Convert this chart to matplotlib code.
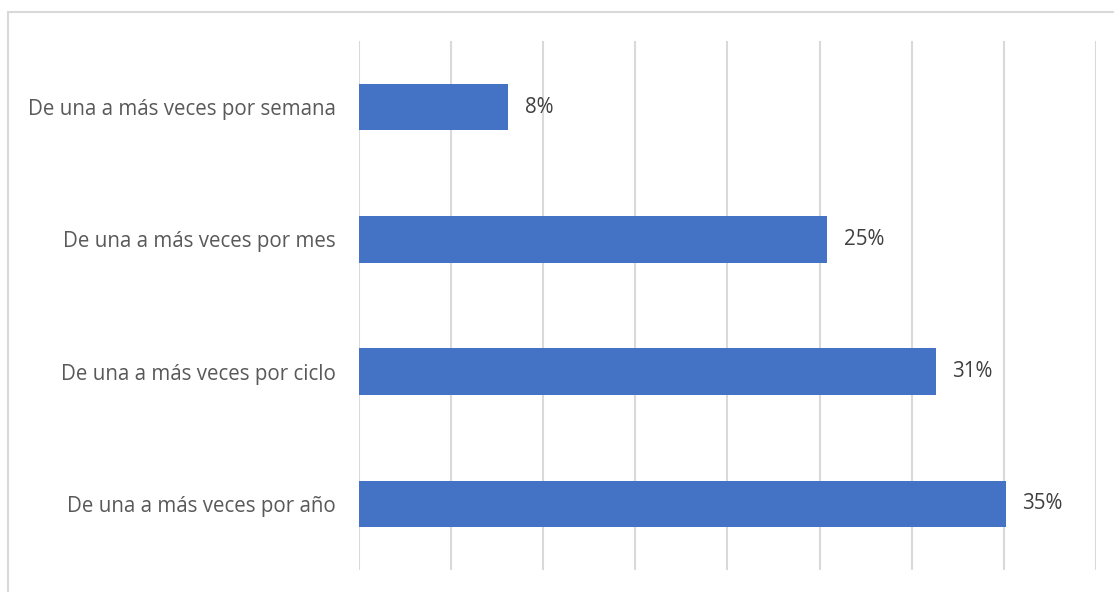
import matplotlib.pyplot as plt
from matplotlib.patches import Rectangle

categories = [
    'De una a más veces por semana',
    'De una a más veces por mes',
    'De una a más veces por ciclo',
    'De una a más veces por año',
]
percentages = [8.1, 25.4, 31.3, 35.1]

plt.rcParams['font.family'] = ['Open Sans', 'DejaVu Sans']

fig = plt.figure(figsize=(11.14, 5.92), dpi=100)
ax = fig.add_axes([0.3223, 0.0372, 0.9838 - 0.3223, 0.9307 - 0.0372])

# chart frame, clipped on the right and bottom
fig.patches.append(Rectangle((7.5 / 1114, -0.1), 1.2, 1 - 12 / 592 + 0.1,
                             transform=fig.transFigure, fill=False,
                             edgecolor='#d9d9d9', linewidth=1.5))

ypos = list(range(len(categories)))
ax.barh(ypos, percentages, height=0.35, color='#4472c4', zorder=2)
for y, v in zip(ypos, percentages):
    ax.text(v + 0.9, y, f'{v:.0f}%', va='center', ha='left',
            fontsize=14.8, color='#404040')

ax.set_xlim(0, 40)
ax.set_ylim(len(categories) - 0.5, -0.5)
ax.set_xticks(range(0, 41, 5))
ax.xaxis.grid(True, color='#d9d9d9', linewidth=1.5, zorder=0)
ax.tick_params(axis='x', length=0, labelbottom=False)
ax.set_yticks(ypos)
ax.set_yticklabels(categories, fontsize=14.8, color='#595959')
ax.tick_params(axis='y', length=0, pad=17)
for s in ax.spines.values():
    s.set_visible(False)

fig.savefig('out.png', dpi=100)
